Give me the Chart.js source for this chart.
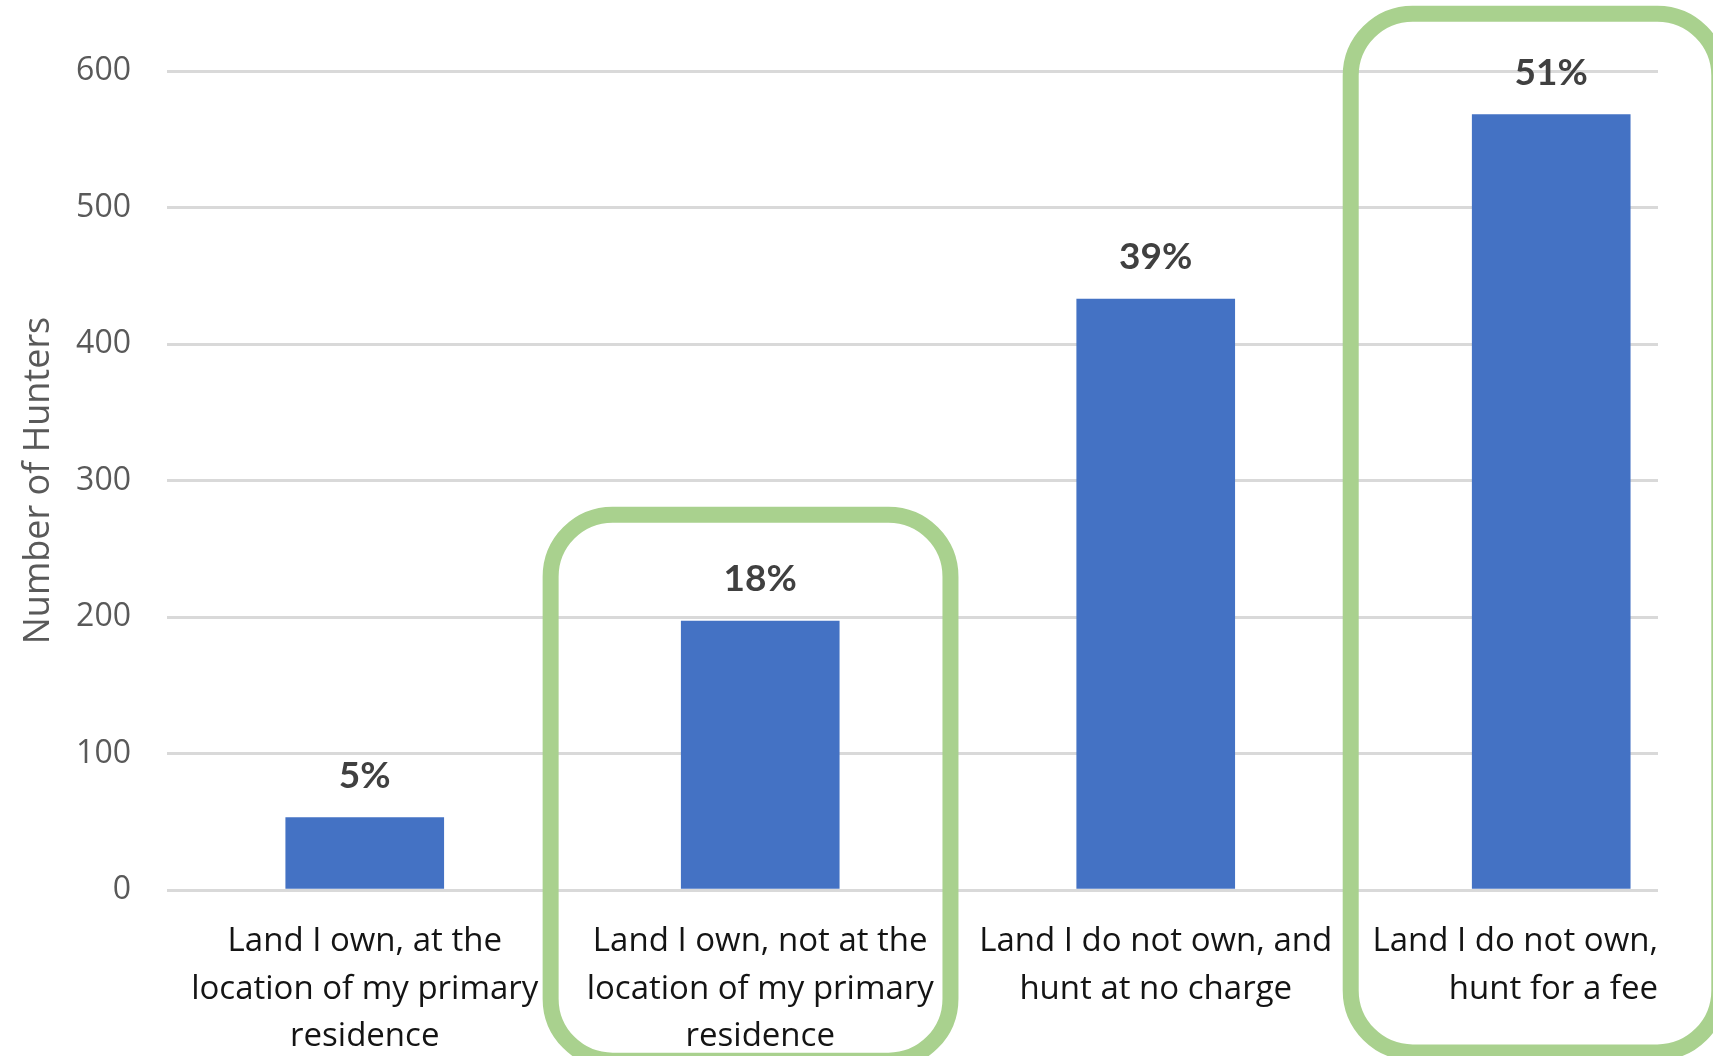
<!DOCTYPE html>
<html>
<head>
<meta charset="utf-8">
<script src="https://cdn.jsdelivr.net/npm/chart.js@4.4.0/dist/chart.umd.min.js"></script>
<style>
    html, body { margin: 0; padding: 0; background: #ffffff; overflow: hidden; }
    #contenitore { width: 1713px; height: 1056px; position: relative; }
</style>
</head>
<body>
<div id="contenitore"><canvas id="grafico"></canvas></div>
<script>
// categorie (asse X), una riga per elemento
var categorie = [
    ["Land I own, at the", "location of my primary", "residence"],
    ["Land I own, not at the", "location of my primary", "residence"],
    ["Land I do not own, and", "hunt at no charge"],
    ["Land I do not own,", "hunt for a fee"]
];

// numero di cacciatori
var numeroCacciatori = [53, 197, 433, 568];

// etichette sopra le barre
var percentuali = ["5%", "18%", "39%", "51%"];

// tick asse Y
var tickY = [0, 100, 200, 300, 400, 500, 600];

var posizioni = [];
for (var i = 0; i < categorie.length; i++) {
    posizioni.push(i);
}

var puntiBarre = [];
for (var i = 0; i < numeroCacciatori.length; i++) {
    puntiBarre.push({ x: posizioni[i], y: numeroCacciatori[i] });
}

// percentuali sopra le barre
var pluginEtichette = {
    id: "etichette",
    afterDatasetsDraw: function (chart) {
        var ctx = chart.ctx;
        var meta = chart.getDatasetMeta(0);
        ctx.save();
        ctx.font = "bold 37px Lato";
        ctx.fillStyle = "#404040";
        ctx.textAlign = "center";
        ctx.textBaseline = "alphabetic";
        meta.data.forEach(function (barra, i) {
            ctx.fillText(percentuali[i], barra.x, barra.y - 30);
        });
        ctx.restore();
    }
};

// riquadri verdi arrotondati (in unita' degli assi)
var pluginRiquadri = {
    id: "riquadri",
    afterDraw: function (chart) {
        var ctx = chart.ctx;
        var sx = chart.scales.x;
        var sy = chart.scales.y;
        var riquadri = [
            { da: 0.47, a: 1.481, alto: 275, basso: -125 },
            { da: 2.493, a: 3.425, alto: 642, basso: -119 }
        ];
        ctx.save();
        ctx.strokeStyle = "#A9D18E";
        ctx.lineWidth = 16;
        riquadri.forEach(function (r) {
            var x0 = sx.getPixelForValue(r.da);
            var x1 = sx.getPixelForValue(r.a);
            var y0 = sy.getPixelForValue(r.alto);
            var y1 = sy.getPixelForValue(r.basso);
            ctx.beginPath();
            ctx.roundRect(x0, y0, x1 - x0, y1 - y0, 62);
            ctx.stroke();
        });
        ctx.restore();
    }
};

var ctx = document.getElementById("grafico");
var chart = new Chart(ctx, {
    type: "bar",
    data: {
        datasets: [{
            data: puntiBarre,
            backgroundColor: "#4472C4",
            barThickness: 158
        }]
    },
    options: {
        responsive: true,
        maintainAspectRatio: false,
        animation: false,
        layout: {
            padding: { top: 71, right: 55, bottom: 0, left: 0 }
        },
        plugins: {
            legend: { display: false },
            tooltip: { enabled: false }
        },
        scales: {
            x: {
                type: "linear",
                min: -0.5,
                max: 3.27,
                offset: false,
                grid: { display: false, offset: false },
                border: { display: false },
                afterBuildTicks: function (scale) {
                    // primo tick vuoto sul bordo, ultimo sul bordo destro (allineato a destra)
                    var t = [{ value: scale.min }];
                    for (var i = 0; i < posizioni.length - 1; i++) {
                        t.push({ value: posizioni[i] });
                    }
                    t.push({ value: scale.max });
                    scale.ticks = t;
                },
                afterFit: function (scale) {
                    scale.height = 166;
                },
                ticks: {
                    align: "inner",
                    autoSkip: false,
                    maxRotation: 0,
                    minRotation: 0,
                    padding: 20,
                    color: "#141414",
                    font: { family: "Open Sans", size: 33, lineHeight: "47.5px" },
                    callback: function (value, index) {
                        if (index === 0) return "";
                        return categorie[index - 1];
                    }
                }
            },
            y: {
                min: tickY[0],
                max: tickY[tickY.length - 1],
                grid: { color: "#D9D9D9", lineWidth: 3, drawTicks: false },
                border: { display: false },
                afterBuildTicks: function (scale) {
                    scale.ticks = tickY.map(function (v) { return { value: v }; });
                },
                afterFit: function (scale) {
                    scale.width = 167;
                },
                ticks: {
                    padding: 36,
                    color: "#595959",
                    font: { family: "Open Sans", size: 32 }
                },
                title: {
                    display: true,
                    text: "Number of Hunters",
                    color: "#595959",
                    font: { family: "Open Sans", size: 36 },
                    padding: { top: 17, bottom: 0 }
                }
            }
        }
    },
    plugins: [pluginEtichette, pluginRiquadri]
});
</script>
</body>
</html>
